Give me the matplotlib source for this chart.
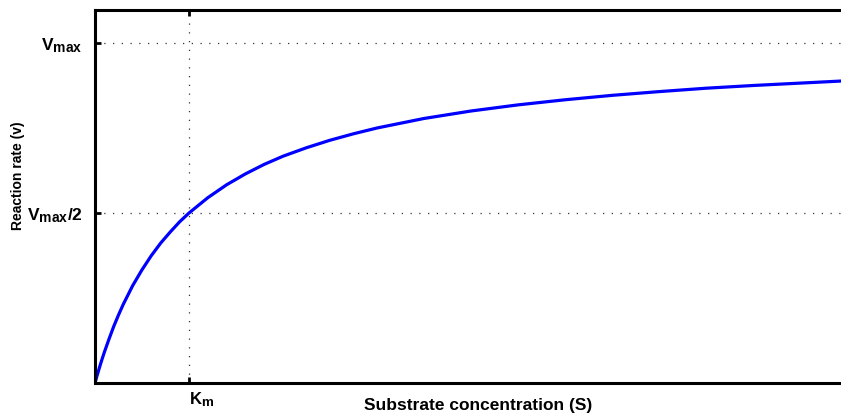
import matplotlib
matplotlib.use("Agg")
import matplotlib.pyplot as plt
import matplotlib._mathtext as mathtext_internal

plt.rcParams['font.family'] = ['Liberation Sans', 'DejaVu Sans']
plt.rcParams['mathtext.fontset'] = 'custom'
plt.rcParams['mathtext.rm'] = 'Liberation Sans:bold'
plt.rcParams['mathtext.it'] = 'Liberation Sans:bold'
plt.rcParams['mathtext.bf'] = 'Liberation Sans:bold'
# subscripts in the original are drawn larger than mathtext's default
mathtext_internal.SHRINK_FACTOR = 0.8

# substrate concentration (in units of Km) and reaction rate (in units of Vmax)
substrate = [0, 0.01, 0.02, 0.03, 0.05, 0.075, 0.1, 0.15, 0.2, 0.25, 0.3, 0.4,
             0.5, 0.6, 0.7, 0.8, 0.9, 1.0, 1.2, 1.4, 1.6, 1.8, 2.0, 2.25, 2.5,
             2.75, 3.0, 3.5, 4.0, 4.5, 5.0, 5.5, 6.0, 6.5, 7.0, 7.5, 8.0, 8.2]
rate = [0, 0.010, 0.020, 0.029, 0.048, 0.070, 0.091, 0.130, 0.167, 0.200,
        0.231, 0.286, 0.333, 0.375, 0.412, 0.444, 0.474, 0.5, 0.545, 0.583,
        0.615, 0.643, 0.667, 0.692, 0.714, 0.733, 0.75, 0.778, 0.8, 0.818,
        0.833, 0.846, 0.857, 0.867, 0.875, 0.882, 0.889, 0.891]

km_value = 1.0
vmax_value = 1.0
x_ticks = [km_value]
x_ticklabels = [r'$\mathbf{K_m}$']
y_ticks = [vmax_value / 2, vmax_value]
y_ticklabels = [r'$\mathbf{V_{max}/2}$', r'$\mathbf{V_{max}}$']

W, H = 841, 416
fig = plt.figure(figsize=(W / 100, H / 100), dpi=100)
left, right, bottom, top = 95, 861, 383, 10
ax = fig.add_axes([left / W, (H - bottom) / H, (right - left) / W, (bottom - top) / H])

ax.plot(substrate, rate, color=(0, 0, 1), linewidth=2.3, solid_capstyle='butt')

ax.set_xlim(0, (right - left) / 94)
ax.set_ylim(0, (bottom - top) / 340)

ax.set_xticks(x_ticks)
ax.set_xticklabels(x_ticklabels, fontsize=12, ha='left')
ax.set_yticks(y_ticks)
ax.set_yticklabels(y_ticklabels, fontsize=12.5)

ax.grid(True, linestyle=(0, (1, 6)), color='#333333', linewidth=0.9)
ax.tick_params(direction='in', length=4, width=2, top=True, right=False)
ax.tick_params(axis='y', pad=9)
ax.tick_params(axis='x', pad=5)

for side in ['left', 'bottom', 'top']:
    ax.spines[side].set_linewidth(2.2)
ax.spines['right'].set_visible(False)

ax.set_xlabel('Substrate concentration (S)', fontsize=12.5, fontweight='bold')
ax.xaxis.set_label_coords((478 - left) / (right - left), -0.04)
ax.set_ylabel('Reaction rate (v)', fontsize=10, fontweight='bold')
ax.yaxis.set_label_coords((25 - left) / (right - left), (bottom - 176) / (bottom - top))

fig.savefig('out.png', dpi=100)
